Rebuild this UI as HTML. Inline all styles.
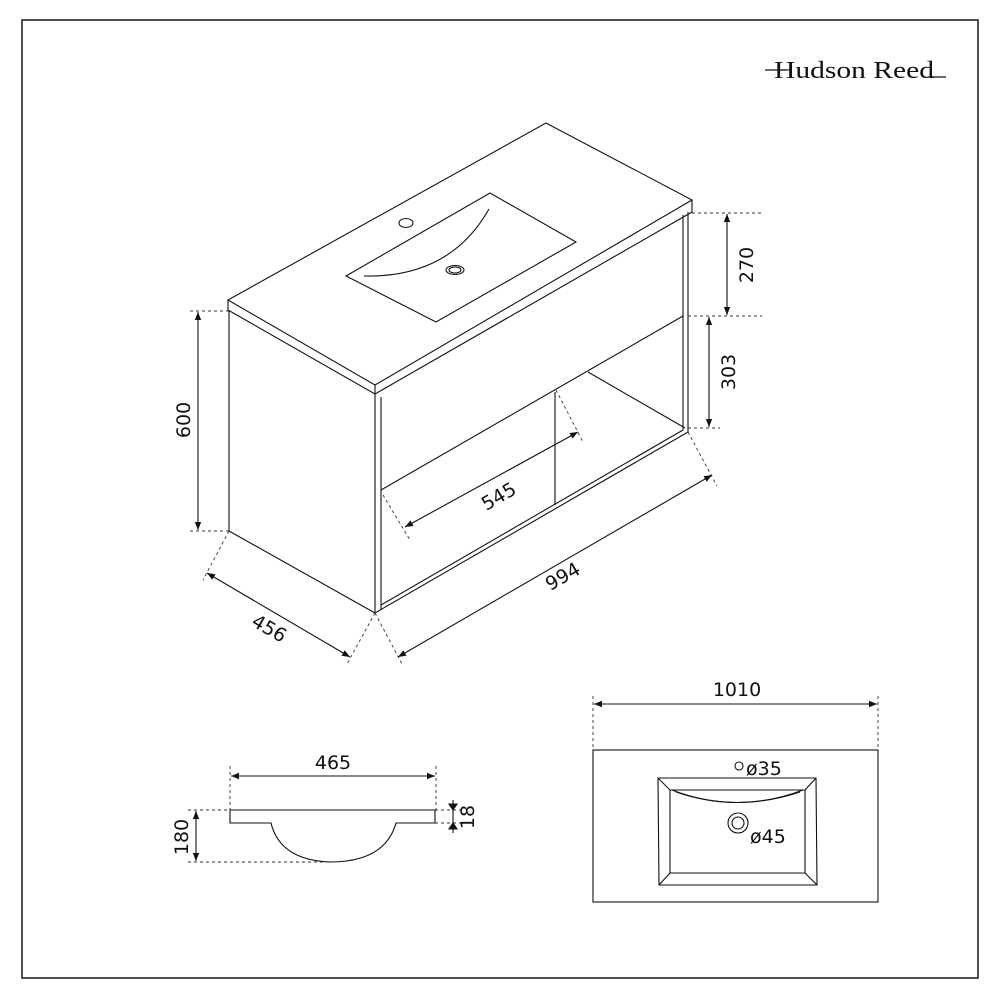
<!DOCTYPE html>
<html><head><meta charset="utf-8"><style>
html,body{margin:0;padding:0;background:#fff;}
svg{display:block;}
text{font-family:"DejaVu Sans","Liberation Sans",sans-serif;fill:#111;}
</style></head><body>
<svg width="1000" height="1000" viewBox="0 0 1000 1000" xmlns="http://www.w3.org/2000/svg">
<defs>
<marker id="a" viewBox="0 0 10 10" refX="10" refY="5" markerWidth="8" markerHeight="8" orient="auto-start-reverse" markerUnits="userSpaceOnUse"><path d="M0,1 L10,5 L0,9 z" fill="#111"/></marker>
</defs>
<rect x="22" y="20" width="956" height="958" fill="none" stroke="#222" stroke-width="1.6"/>
<!-- logo -->
<text x="774" y="78" font-size="24" textLength="160" lengthAdjust="spacingAndGlyphs" style="font-family:'Liberation Serif',serif">Hudson Reed</text>
<line x1="765" y1="70" x2="786" y2="70" stroke="#111" stroke-width="1.3"/>
<line x1="928" y1="77" x2="946" y2="77" stroke="#111" stroke-width="1.3"/>

<g fill="none" stroke="#111" stroke-width="1.1">
<path d="M228,300 L546,123 L692,200 L375,385 Z"/>
<path d="M228,300 L228,310 L375,394 L692,212 L692,200"/>
<line x1="375" y1="385" x2="375" y2="394"/>
<path d="M346,276 L490,193 L576,242 L436,322 Z"/>
<path d="M364,276 Q450,278 489,209"/>
<ellipse cx="406" cy="223" rx="7" ry="4.5"/>
<ellipse cx="455" cy="270" rx="9" ry="4.5"/>
<ellipse cx="455" cy="270" rx="6" ry="3"/>
<line x1="229" y1="310" x2="229" y2="531"/>
<line x1="229" y1="531" x2="375" y2="613"/>
<line x1="375" y1="394" x2="375" y2="613"/>
<line x1="381" y1="397" x2="381" y2="610"/>
<line x1="688" y1="212" x2="688" y2="432"/>
<line x1="683" y1="215" x2="683" y2="430"/>
<line x1="375" y1="613" x2="688" y2="432"/>
<line x1="381" y1="605" x2="683" y2="430"/>
<line x1="381" y1="490" x2="683" y2="316"/>
<line x1="588" y1="372" x2="685" y2="428"/>
<line x1="555" y1="392" x2="555" y2="505"/>
</g>

<g fill="none" stroke="#333" stroke-width="0.9" stroke-dasharray="3,3">
<line x1="692" y1="213" x2="762" y2="213"/>
<line x1="688" y1="316" x2="762" y2="316"/>
<line x1="688" y1="428" x2="720" y2="428"/>
<line x1="190" y1="311" x2="229" y2="311"/>
<line x1="190" y1="531" x2="229" y2="531"/>
<line x1="229" y1="531" x2="203" y2="580"/>
<line x1="375" y1="613" x2="347" y2="664"/>
<line x1="375" y1="613" x2="402" y2="664"/>
<line x1="688" y1="432" x2="717" y2="486"/>
<line x1="383" y1="495" x2="410" y2="540"/>
<line x1="556" y1="390" x2="583" y2="442"/>
<line x1="230" y1="766" x2="230" y2="810"/>
<line x1="436" y1="766" x2="436" y2="810"/>
<line x1="188" y1="810" x2="230" y2="810"/>
<line x1="188" y1="862" x2="330" y2="862"/>
<line x1="435" y1="810" x2="462" y2="810"/>
<line x1="435" y1="823" x2="462" y2="823"/>
<line x1="593" y1="696" x2="593" y2="750"/>
<line x1="878" y1="696" x2="878" y2="750"/>
</g>

<g stroke="#111" stroke-width="1.1" marker-start="url(#a)" marker-end="url(#a)">
<line x1="727" y1="214" x2="727" y2="315"/>
<line x1="709" y1="317" x2="709" y2="427"/>
<line x1="198" y1="312" x2="198" y2="530"/>
<line x1="207" y1="573" x2="350" y2="657"/>
<line x1="398" y1="657" x2="712" y2="475"/>
<line x1="405" y1="527" x2="578" y2="432"/>
<line x1="231" y1="776" x2="435" y2="776"/>
<line x1="196" y1="811" x2="196" y2="861"/>
<line x1="594" y1="704" x2="877" y2="704"/>
</g>
<g stroke="#111" stroke-width="1.1">
<line x1="453" y1="800" x2="453" y2="833"/>
<path d="M449,804 L457,804 L453,810 Z M449,829 L457,829 L453,823 Z" fill="#111"/>
</g>

<g font-size="19">
<text transform="translate(753,265) rotate(-90)" text-anchor="middle">270</text>
<text transform="translate(735,372) rotate(-90)" text-anchor="middle">303</text>
<text transform="translate(190,420) rotate(-90)" text-anchor="middle">600</text>
<text transform="translate(266,634) rotate(30)" text-anchor="middle">456</text>
<text transform="translate(566,582) rotate(-30)" text-anchor="middle">994</text>
<text transform="translate(502,502) rotate(-30)" text-anchor="middle">545</text>
<text x="333" y="769" text-anchor="middle">465</text>
<text transform="translate(188,837) rotate(-90)" text-anchor="middle">180</text>
<text transform="translate(474,817) rotate(-90)" text-anchor="middle">18</text>
<text x="737" y="696" text-anchor="middle">1010</text>
<text x="746" y="775">ø35</text>
<text x="750" y="843">ø45</text>
</g>

<g fill="none" stroke="#111" stroke-width="1.1">
<path d="M230,810 L435,810 L435,823 L396,823 Q385,862 330,862 Q280,860 271,823 L230,823 Z"/>
<rect x="593" y="750" width="285" height="152"/>
<path d="M658,778 L816,778 L817,885 L659,885 Z"/>
<path d="M670,790 L805,790 L805,873 L670,873 Z"/>
<line x1="658" y1="778" x2="670" y2="790"/>
<line x1="816" y1="778" x2="805" y2="790"/>
<line x1="659" y1="885" x2="670" y2="873"/>
<line x1="817" y1="885" x2="805" y2="873"/>
<path d="M672,790 Q737,815 803,790"/>
<path d="M676,792 Q737,813 800,792"/>
<circle cx="739" cy="766" r="4"/>
<circle cx="738" cy="823" r="10"/>
<circle cx="738" cy="823" r="6"/>
</g>
</svg>
</body></html>
